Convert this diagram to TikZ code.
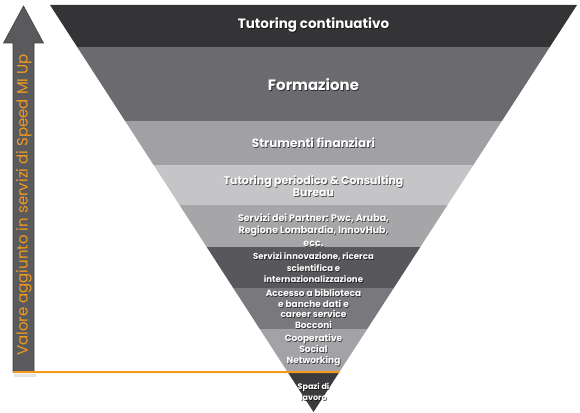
\documentclass[tikz,border=0pt]{standalone}
\usepackage{fontspec}
\setmainfont{Poppins}
\usepackage{xcolor}
\usetikzlibrary{calc}

\definecolor{bandA}{HTML}{343437}
\definecolor{bandB}{HTML}{6B6B6F}
\definecolor{bandC}{HTML}{A1A1A5}
\definecolor{bandD}{HTML}{C5C5C7}
\definecolor{bandE}{HTML}{A6A6A8}
\definecolor{bandF}{HTML}{58585C}
\definecolor{bandG}{HTML}{79797D}
\definecolor{bandH}{HTML}{A3A3A7}
\definecolor{bandI}{HTML}{3B3B3E}
\definecolor{arrowgray}{HTML}{5A5A5C}
\definecolor{mlorange}{HTML}{F39A1E}

% white label with a soft drop shadow
\newcommand\bandlabel[4]{%
  \node[lbl,font=#3,text=black,text opacity=.6,xshift=.8pt,yshift=-.8pt]
    (#1s) at #2 {#4};
  \node[lbl,font=#3] (#1) at #2 {#4};}

\begin{document}
\begin{tikzpicture}[x=1pt,y=-1pt,
  lbl/.style={text=white,align=center,inner sep=0pt},
  valtxt/.style={text=mlorange,rotate=90,font=\fontsize{15}{17}\selectfont}
]
\useasboundingbox (0,0) rectangle (580,412);
%% inverted pyramid
\coordinate (tl) at (50,5);
\coordinate (tr) at (577,5);
\coordinate (apex) at (313.5,412);
\foreach \ya/\yb/\yt/\col/\fs/\ls/\txt [count=\i] in {
  5/47/25/bandA/13.5/15/{Tutoring continuativo},
  47/121/85/bandB/15/17/{Formazione},
  121/165/143/bandC/12/14/{Strumenti finanziari},
  165/205/186/bandD/11/11.8/{Tutoring periodico \& Consulting\\Bureau},
  205/247/230/bandE/9.5/12.5/{Servizi dei Partner: Pwc, Aruba,\\Regione Lombardia, InnovHub,\\ecc.},
  247/288/268/bandF/8.6/11.5/{Servizi innovazione, ricerca\\scientifica e\\internazionalizzazione},
  288/329/309/bandG/9/10.7/{Accesso a biblioteca\\e banche dati e\\career service\\Bocconi},
  329/372/350/bandH/9/11/{Cooperative\\Social\\Networking},
  372/412/392/bandI/8/10.5/{Spazi di\\lavoro}}{
  \pgfmathsetmacro\fa{(412-\ya)/407}
  \pgfmathsetmacro\fb{(412-\yb)/407}
  \fill[\col] ($(apex)!\fa!(tl)$) -- ($(apex)!\fa!(tr)$)
    -- ($(apex)!\fb!(tr)$) -- ($(apex)!\fb!(tl)$) -- cycle;
  \bandlabel{band\i}{(313.5,\yt)}{\fontsize{\fs}{\ls}\selectfont\bfseries}{\txt}
}
%% value arrow
\coordinate (vbase) at (13,372);
\fill[black,opacity=.1] (14,374) rectangle (36,377);
\draw[arrowgray!70!black,fill=arrowgray,line width=.6pt]
  (vbase) -- (34,372) -- (34,43) -- (43.5,43) -- (23.5,6)
  -- (3.5,43) -- (13,43) -- cycle;
\node[valtxt] (valore) at (24,205) {Valore aggiunto in servizi di Speed MI Up};
\coordinate (vend) at ($(apex)!{40/407}!(tr)$);
\draw[mlorange,line width=2pt] (vbase) -- (vend);
\end{tikzpicture}
\end{document}
